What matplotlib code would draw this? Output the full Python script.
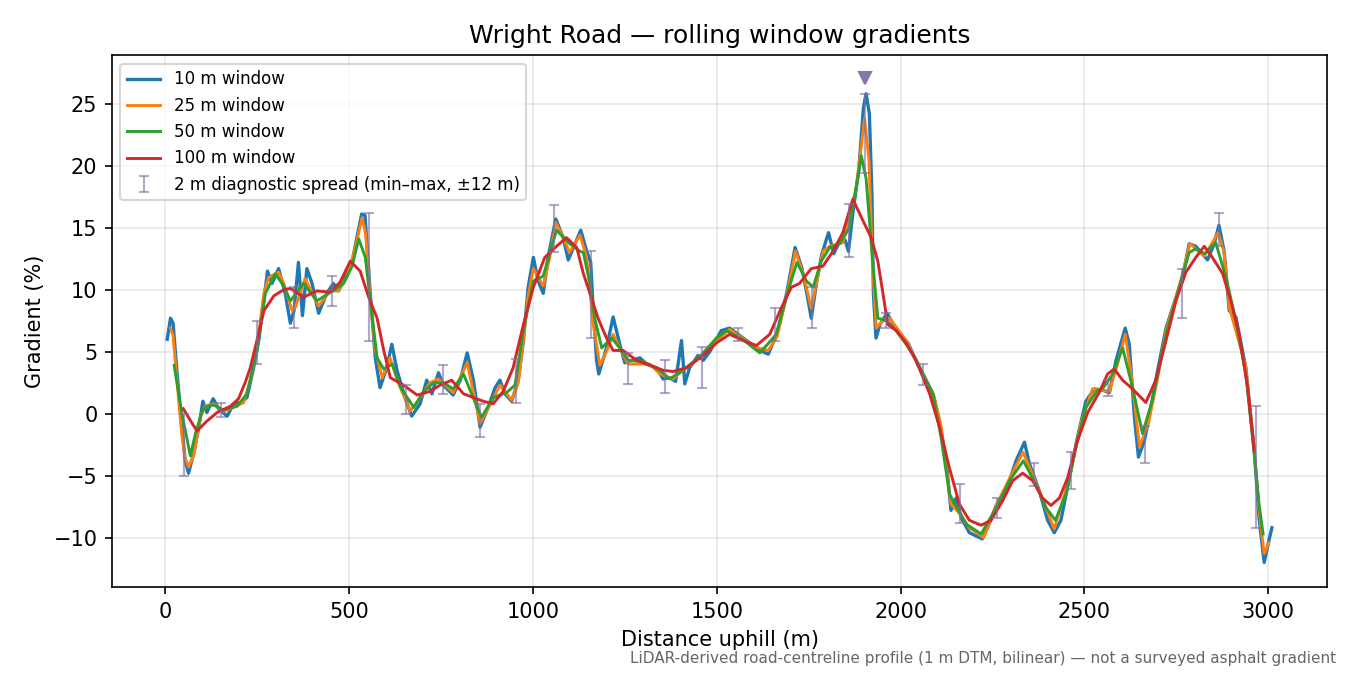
import matplotlib
matplotlib.use("Agg")
import matplotlib.pyplot as plt

# gradient profiles (distance m, gradient %)
x10 = [5, 14, 21, 32, 45, 54, 63, 77, 91, 102, 113, 130, 145, 168, 186, 204, 222, 240, 254, 263,
       278, 290, 308, 326, 340, 350, 362, 373, 385, 399, 417, 439, 457, 471, 484, 507, 521, 534, 543, 557,
       571, 584, 602, 616, 630, 652, 670, 693, 711, 725, 743, 756, 783, 802, 821, 838, 856, 878, 897, 910,
       924, 942, 960, 974, 987, 1001, 1014, 1028, 1041, 1062, 1082, 1096, 1110, 1130, 1146, 1157, 1163, 1173, 1179, 1200,
       1218, 1236, 1250, 1268, 1291, 1309, 1336, 1354, 1372, 1388, 1404, 1413, 1426, 1449, 1463, 1481, 1512, 1535, 1572, 1617,
       1640, 1663, 1690, 1713, 1731, 1745, 1757, 1772, 1786, 1804, 1818, 1831, 1849, 1858, 1872, 1886, 1899, 1906, 1915, 1922,
       1926, 1933, 1944, 1963, 1990, 2020, 2051, 2069, 2088, 2106, 2124, 2137, 2151, 2165, 2187, 2222, 2241, 2260, 2287, 2314,
       2337, 2350, 2377, 2400, 2418, 2436, 2459, 2481, 2504, 2527, 2549, 2568, 2586, 2611, 2622, 2636, 2647, 2663, 2676, 2694,
       2722, 2744, 2767, 2785, 2803, 2826, 2835, 2853, 2866, 2880, 2894, 2912, 2939, 2962, 2975, 2989, 3002, 3010]
g10 = [6.0, 7.7, 7.3, 3.2, -1.1, -3.8, -4.8, -3.2, -1.1, 1.0, 0.1, 1.2, 0.4, -0.2, 0.8, 0.9, 1.3, 3.7, 5.9, 8.0,
       11.5, 10.5, 11.7, 9.7, 7.3, 8.3, 12.2, 7.9, 11.7, 10.5, 8.1, 9.7, 10.5, 9.9, 10.7, 12.1, 14.2, 16.1, 16.0, 9.9,
       4.5, 2.1, 3.7, 5.6, 3.5, 1.3, -0.2, 0.8, 2.7, 1.6, 3.3, 2.3, 1.5, 2.7, 4.9, 2.7, -1.1, 0.5, 2.1, 2.7,
       1.6, 1.0, 2.7, 5.9, 10.2, 12.6, 10.7, 9.7, 12.6, 15.7, 14.2, 12.4, 13.4, 14.8, 13.1, 12.2, 8.9, 4.3, 3.2, 5.3,
       7.8, 5.6, 4.1, 4.3, 4.5, 4.0, 3.7, 2.8, 2.9, 2.6, 5.9, 2.4, 3.7, 4.7, 4.3, 5.0, 6.7, 6.9, 6.1, 5.1,
       4.8, 6.4, 9.7, 13.4, 11.8, 9.7, 7.7, 10.7, 12.9, 14.6, 12.9, 13.7, 14.0, 13.1, 16.6, 19.6, 24.7, 25.8, 24.2, 17.7,
       9.7, 6.1, 7.2, 8.1, 6.7, 5.7, 3.7, 2.7, 1.6, -0.6, -3.8, -7.8, -6.8, -8.4, -9.6, -10.1, -8.9, -7.4, -6.2, -3.8,
       -2.3, -4.0, -6.2, -8.6, -9.6, -8.6, -5.2, -1.9, 1.0, 2.0, 1.9, 1.7, 4.3, 6.9, 5.6, -0.3, -3.5, -2.2, -0.3, 2.7,
       6.9, 8.9, 11.0, 13.7, 13.5, 12.7, 12.4, 13.7, 15.2, 13.1, 8.3, 7.8, 3.7, -3.0, -8.4, -12.0, -10.2, -9.2]

x25 = [14, 21, 32, 45, 54, 63, 77, 95, 109, 131, 158, 186, 213, 231, 249, 268, 281, 308, 322, 345,
       354, 380, 417, 448, 471, 493, 516, 535, 545, 557, 571, 590, 611, 635, 666, 693, 720, 743, 783, 821,
       856, 885, 910, 942, 960, 974, 987, 1001, 1028, 1045, 1062, 1080, 1099, 1128, 1146, 1164, 1182, 1200, 1218, 1236,
       1259, 1318, 1345, 1381, 1408, 1445, 1499, 1535, 1575, 1600, 1640, 1664, 1690, 1714, 1735, 1757, 1789, 1807, 1843, 1879,
       1902, 1914, 1924, 1934, 1952, 1970, 2015, 2050, 2090, 2110, 2137, 2165, 2187, 2226, 2260, 2300, 2333, 2377, 2418, 2459,
       2490, 2522, 2568, 2590, 2611, 2630, 2650, 2676, 2700, 2722, 2760, 2787, 2826, 2864, 2880, 2894, 2939, 2962, 2976, 2989,
       3002]
g25 = [6.9, 6.3, 2.5, -1.8, -3.6, -4.3, -3.4, -0.3, 0.6, 0.8, 0.2, 0.5, 0.9, 2.7, 5.3, 9.7, 11.0, 11.4, 10.5, 8.3,
       8.6, 10.9, 8.7, 9.9, 9.9, 11.0, 13.3, 15.8, 14.5, 9.4, 5.1, 2.9, 4.5, 2.4, 0.2, 1.3, 2.5, 2.8, 1.7, 4.1,
       -0.8, 0.8, 2.3, 1.1, 2.5, 6.0, 9.5, 11.7, 10.3, 12.5, 15.4, 14.4, 13.0, 14.4, 12.6, 7.2, 3.9, 5.0, 6.4, 5.3,
       4.0, 4.0, 3.2, 2.8, 3.5, 4.3, 5.9, 6.8, 6.0, 5.4, 5.1, 6.2, 9.5, 13.1, 11.3, 8.5, 13.1, 13.5, 13.8, 18.2,
       23.8, 20.4, 11.8, 6.9, 7.5, 7.7, 5.9, 3.8, 1.5, -1.0, -7.3, -8.2, -9.2, -10.0, -7.4, -5.0, -3.1, -6.2, -9.3, -5.2,
       -0.8, 2.0, 1.8, 4.0, 6.4, 2.5, -2.7, -0.5, 3.0, 6.7, 10.5, 13.7, 12.7, 14.6, 13.0, 8.6, 3.8, -3.0, -8.0, -11.3,
       -10.4]

x50 = [24, 45, 68, 82, 100, 113, 131, 158, 195, 222, 249, 272, 299, 322, 340, 376, 412, 450, 485, 508,
       526, 544, 563, 576, 594, 617, 640, 676, 703, 730, 756, 783, 811, 833, 860, 892, 928, 951, 974, 1001,
       1028, 1064, 1100, 1128, 1137, 1155, 1168, 1187, 1214, 1236, 1259, 1300, 1345, 1372, 1408, 1454, 1499, 1526, 1570, 1617,
       1662, 1694, 1718, 1744, 1762, 1784, 1807, 1834, 1861, 1879, 1893, 1906, 1924, 1938, 1961, 1988, 2015, 2045, 2088, 2110,
       2133, 2178, 2219, 2260, 2296, 2334, 2368, 2396, 2421, 2450, 2477, 2504, 2536, 2549, 2577, 2604, 2631, 2658, 2685, 2722,
       2758, 2785, 2803, 2826, 2857, 2885, 2912, 2939, 2962, 2975, 2986]
g50 = [3.9, 0.0, -3.4, -1.6, 0.2, 0.6, 0.7, 0.3, 0.6, 1.6, 5.1, 9.7, 11.3, 10.3, 9.1, 10.5, 9.1, 9.8, 10.5, 11.9,
       14.1, 12.6, 7.7, 4.5, 3.6, 4.0, 2.1, 0.5, 1.8, 2.5, 2.5, 2.0, 3.2, 1.6, -0.3, 1.3, 1.7, 2.3, 6.7, 10.7,
       11.1, 14.8, 13.7, 13.1, 13.0, 10.5, 7.7, 5.3, 6.1, 5.3, 4.3, 4.2, 3.5, 2.8, 3.5, 4.6, 6.1, 6.7, 6.0, 4.9,
       6.4, 9.9, 12.2, 10.7, 10.2, 12.3, 13.4, 13.7, 15.0, 18.2, 20.8, 19.0, 12.3, 7.7, 7.5, 6.7, 5.6, 4.2, 1.6, -1.9,
       -6.5, -8.9, -9.7, -7.6, -5.4, -3.8, -5.7, -7.6, -8.6, -6.5, -2.7, 0.5, 1.9, 2.0, 3.2, 5.3, 2.1, -1.6, 1.1, 6.4,
       10.2, 13.0, 13.3, 12.9, 13.8, 11.0, 7.5, 3.2, -3.2, -7.3, -9.7]

x100 = [49, 63, 86, 113, 141, 177, 199, 217, 231, 249, 268, 295, 322, 340, 376, 412, 448, 475, 503, 530,
        553, 576, 594, 612, 648, 685, 721, 747, 779, 811, 838, 865, 892, 919, 946, 974, 1001, 1032, 1064, 1091,
        1119, 1137, 1155, 1177, 1200, 1218, 1245, 1282, 1318, 1354, 1381, 1417, 1463, 1499, 1535, 1571, 1608, 1644, 1675, 1703,
        1725, 1757, 1789, 1816, 1843, 1870, 1897, 1920, 1938, 1952, 1965, 1988, 2015, 2042, 2079, 2106, 2133, 2160, 2187, 2219,
        2246, 2278, 2305, 2332, 2359, 2386, 2409, 2432, 2454, 2481, 2509, 2540, 2563, 2581, 2604, 2631, 2667, 2694, 2722, 2749,
        2776, 2803, 2826, 2848, 2876, 2898, 2921, 2944, 2962]
g100 = [0.4, -0.3, -1.4, -0.6, 0.1, 0.6, 1.2, 2.5, 3.7, 5.9, 8.3, 9.5, 10.0, 10.1, 9.4, 9.9, 9.8, 10.6, 12.3, 11.5,
        9.4, 7.7, 5.1, 2.9, 2.3, 1.5, 1.8, 2.3, 2.7, 1.6, 1.3, 1.0, 0.8, 1.8, 3.7, 7.2, 10.2, 12.6, 13.5, 14.2,
        13.4, 11.3, 9.7, 7.7, 6.1, 5.1, 5.1, 4.3, 3.9, 3.5, 3.4, 3.7, 4.7, 5.7, 6.4, 5.9, 5.5, 6.4, 8.5, 10.2,
        10.5, 11.7, 11.9, 13.1, 14.6, 17.3, 15.6, 14.2, 12.3, 9.7, 7.2, 6.7, 5.7, 4.3, 1.6, -1.1, -4.4, -7.3, -8.6, -9.0,
        -8.6, -7.0, -5.4, -4.8, -5.4, -6.8, -7.4, -6.8, -5.2, -2.2, 0.1, 1.7, 3.2, 3.6, 2.7, 2.0, 0.9, 2.7, 5.9, 9.1,
        11.4, 12.6, 13.5, 12.6, 11.3, 9.1, 6.4, 2.1, -3.0]

# 2 m diagnostic spread: positions, min and max
spread_x = [50, 152, 250, 351, 454, 555, 655, 754, 856, 955, 1057, 1157, 1259, 1360, 1461, 1559,
            1659, 1760, 1860, 1904, 1961, 2061, 2161, 2263, 2363, 2464, 2563, 2665, 2765, 2866, 2966]
spread_lo = [-5.0, -0.3, 4.0, 6.9, 8.7, 5.9, 0.0, 1.6, -1.9, 0.9, 13.0, 6.1, 2.4, 1.7, 2.1, 5.9,
             5.9, 6.9, 12.6, 19.4, 6.9, 2.3, -8.8, -8.4, -5.8, -6.1, 1.4, -4.0, 7.7, 13.5, -9.2]
spread_hi = [0.0, 0.9, 7.5, 10.2, 11.1, 16.2, 2.3, 3.9, 0.8, 4.4, 16.8, 13.1, 4.9, 4.3, 5.4, 6.9,
             8.5, 10.2, 16.9, 25.8, 8.1, 4.0, -5.7, -6.8, -4.0, -3.1, 2.7, -1.0, 11.7, 16.2, 0.6]

peak_x = 1904
peak_y = 27.1

fig, ax = plt.subplots(figsize=(9, 4.5), dpi=150)
fig.subplots_adjust(left=0.083, right=0.983, top=0.918, bottom=0.13)

ax.plot(x10, g10, color="tab:blue", lw=1.6, label="10 m window")
ax.plot(x25, g25, color="tab:orange", lw=1.4, label="25 m window")
ax.plot(x50, g50, color="tab:green", lw=1.4, label="50 m window")
ax.plot(x100, g100, color="tab:red", lw=1.4, label="100 m window")

mid = [(lo + hi) / 2 for lo, hi in zip(spread_lo, spread_hi)]
err = [[m - lo for m, lo in zip(mid, spread_lo)], [hi - m for m, hi in zip(mid, spread_hi)]]
ax.errorbar(spread_x, mid, yerr=err, fmt="none", ecolor="#7d6ea8", alpha=0.6,
            elinewidth=1.0, capsize=2.5, label="2 m diagnostic spread (min\u2013max, \u00b112 m)")

ax.plot([peak_x], [peak_y], marker="v", color="#8577a8", markersize=6, linestyle="none")

ax.set_xlim(-145, 3160)
ax.set_ylim(-14.0, 28.9)
ax.grid(True, alpha=0.3)
ax.set_xlabel("Distance uphill (m)")
ax.set_ylabel("Gradient (%)")
ax.set_title("Wright Road \u2014 rolling window gradients")
ax.legend(loc="upper left", fontsize=8)

fig.text(0.99, 0.013, "LiDAR-derived road-centreline profile (1 m DTM, bilinear) \u2014 not a surveyed asphalt gradient",
         ha="right", va="bottom", fontsize=7.3, color="#666666")

fig.savefig("out.png", dpi=150)
